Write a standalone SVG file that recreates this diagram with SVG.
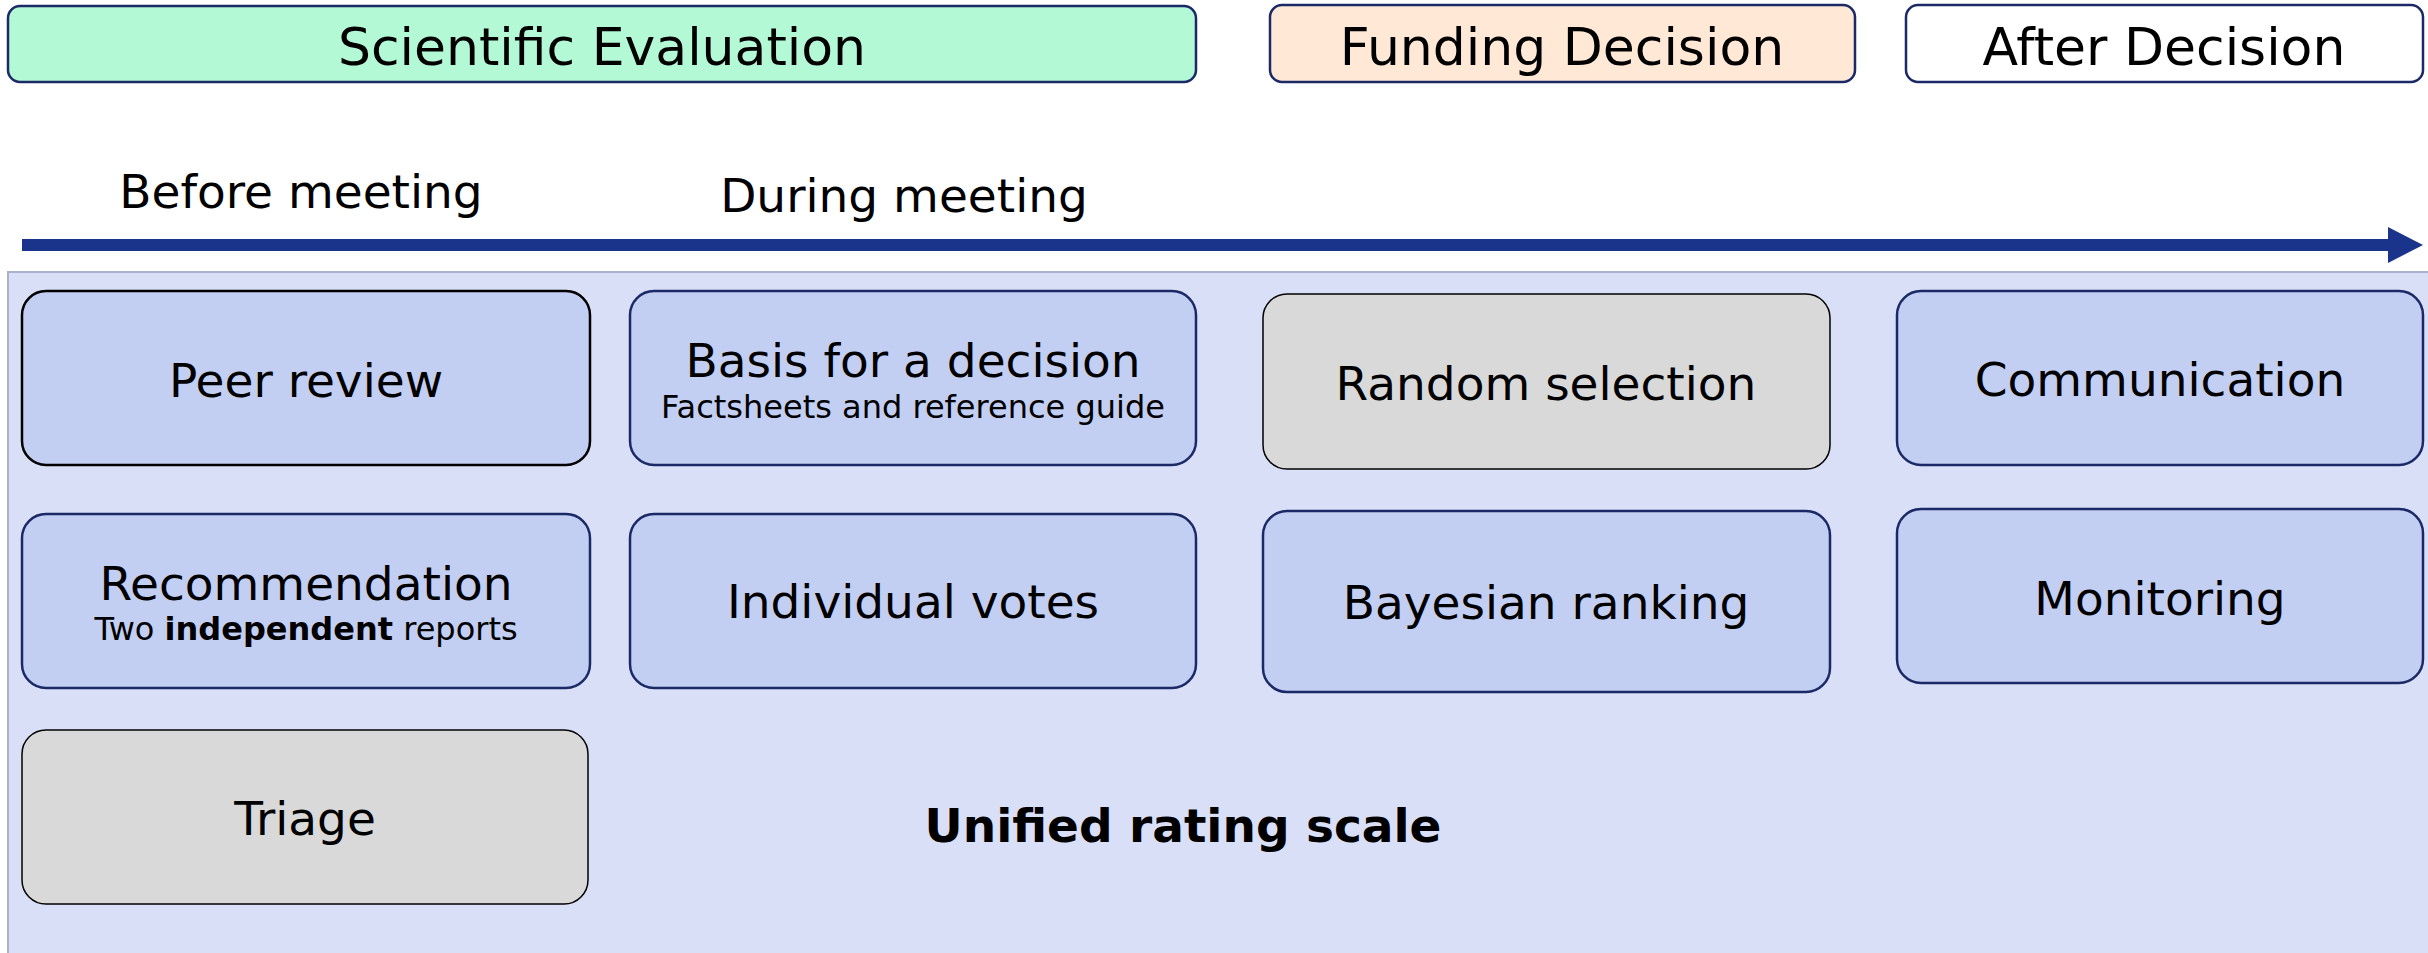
<svg xmlns="http://www.w3.org/2000/svg" width="2428" height="953" viewBox="0 0 2428 953">
<defs>
<style>
text{font-family:"DejaVu Sans","Verdana",sans-serif;fill:#000;text-anchor:middle}
.hdr{font-size:52px}
.lbl{font-size:47px}
.sub{font-size:32px}
.node{fill:#c3cef3;stroke:#1b2a66;stroke-width:2.5}
.gray{fill:#d9d9d9;stroke:#000;stroke-width:1.5}
.phase{stroke:#1b2a66;stroke-width:2.5}
</style>
<marker id="ah" markerUnits="userSpaceOnUse" markerWidth="36" markerHeight="36" viewBox="0 0 36 36" refX="0" refY="18" orient="auto">
<path d="M0,0 L35,18 L0,36 Z" fill="#1a348c"/>
</marker>
</defs>
<rect width="2428" height="953" fill="#fff"/>
<g id="panel">
<rect x="8" y="272" width="2440" height="700" fill="#dadff8" stroke="#aab1cc" stroke-width="2"/>
</g>
<g id="phase-scientific">
<rect class="phase" x="8" y="6" width="1188" height="76" rx="12" fill="#b3f9d6"/>
<text class="hdr" x="602" y="65">Scientific Evaluation</text>
</g>
<g id="phase-funding">
<rect class="phase" x="1270" y="5" width="585" height="77" rx="12" fill="#ffe9d6"/>
<text class="hdr" x="1562" y="65">Funding Decision</text>
</g>
<g id="phase-after">
<rect class="phase" x="1906" y="5" width="517" height="77" rx="12" fill="#fff"/>
<text class="hdr" x="2164" y="65">After Decision</text>
</g>
<g id="label-before">
<text class="lbl" x="301" y="208">Before meeting</text>
</g>
<g id="label-during">
<text class="lbl" x="904" y="212">During meeting</text>
</g>
<g id="connectors">
<line x1="22" y1="245" x2="2388" y2="245" stroke="#1a348c" stroke-width="12" marker-end="url(#ah)"/>
</g>
<g id="peer-review">
<rect class="node" x="22" y="291" width="568" height="174" rx="24" style="stroke:#000"/>
<text class="lbl" x="306" y="397">Peer review</text>
</g>
<g id="basis">
<rect class="node" x="630" y="291" width="566" height="174" rx="24"/>
<text class="lbl" x="913" y="377">Basis for a decision</text>
<text class="sub" x="913" y="418">Factsheets and reference guide</text>
</g>
<g id="random-selection">
<rect class="gray" x="1263" y="294" width="567" height="175" rx="24"/>
<text class="lbl" x="1546" y="400">Random selection</text>
</g>
<g id="communication">
<rect class="node" x="1897" y="291" width="526" height="174" rx="24"/>
<text class="lbl" x="2160" y="396">Communication</text>
</g>
<g id="recommendation">
<rect class="node" x="22" y="514" width="568" height="174" rx="24"/>
<text class="lbl" x="306" y="600">Recommendation</text>
<text class="sub" x="306" y="640">Two <tspan font-weight="bold">independent</tspan> reports</text>
</g>
<g id="individual-votes">
<rect class="node" x="630" y="514" width="566" height="174" rx="24"/>
<text class="lbl" x="913" y="618">Individual votes</text>
</g>
<g id="bayesian-ranking">
<rect class="node" x="1263" y="511" width="567" height="181" rx="24"/>
<text class="lbl" x="1546" y="619">Bayesian ranking</text>
</g>
<g id="monitoring">
<rect class="node" x="1897" y="509" width="526" height="174" rx="24"/>
<text class="lbl" x="2160" y="615">Monitoring</text>
</g>
<g id="triage">
<rect class="gray" x="22" y="730" width="566" height="174" rx="24"/>
<text class="lbl" x="305" y="835">Triage</text>
</g>
<g id="unified-rating-scale">
<text class="lbl" x="1183" y="842" font-weight="bold">Unified rating scale</text>
</g>
</svg>
